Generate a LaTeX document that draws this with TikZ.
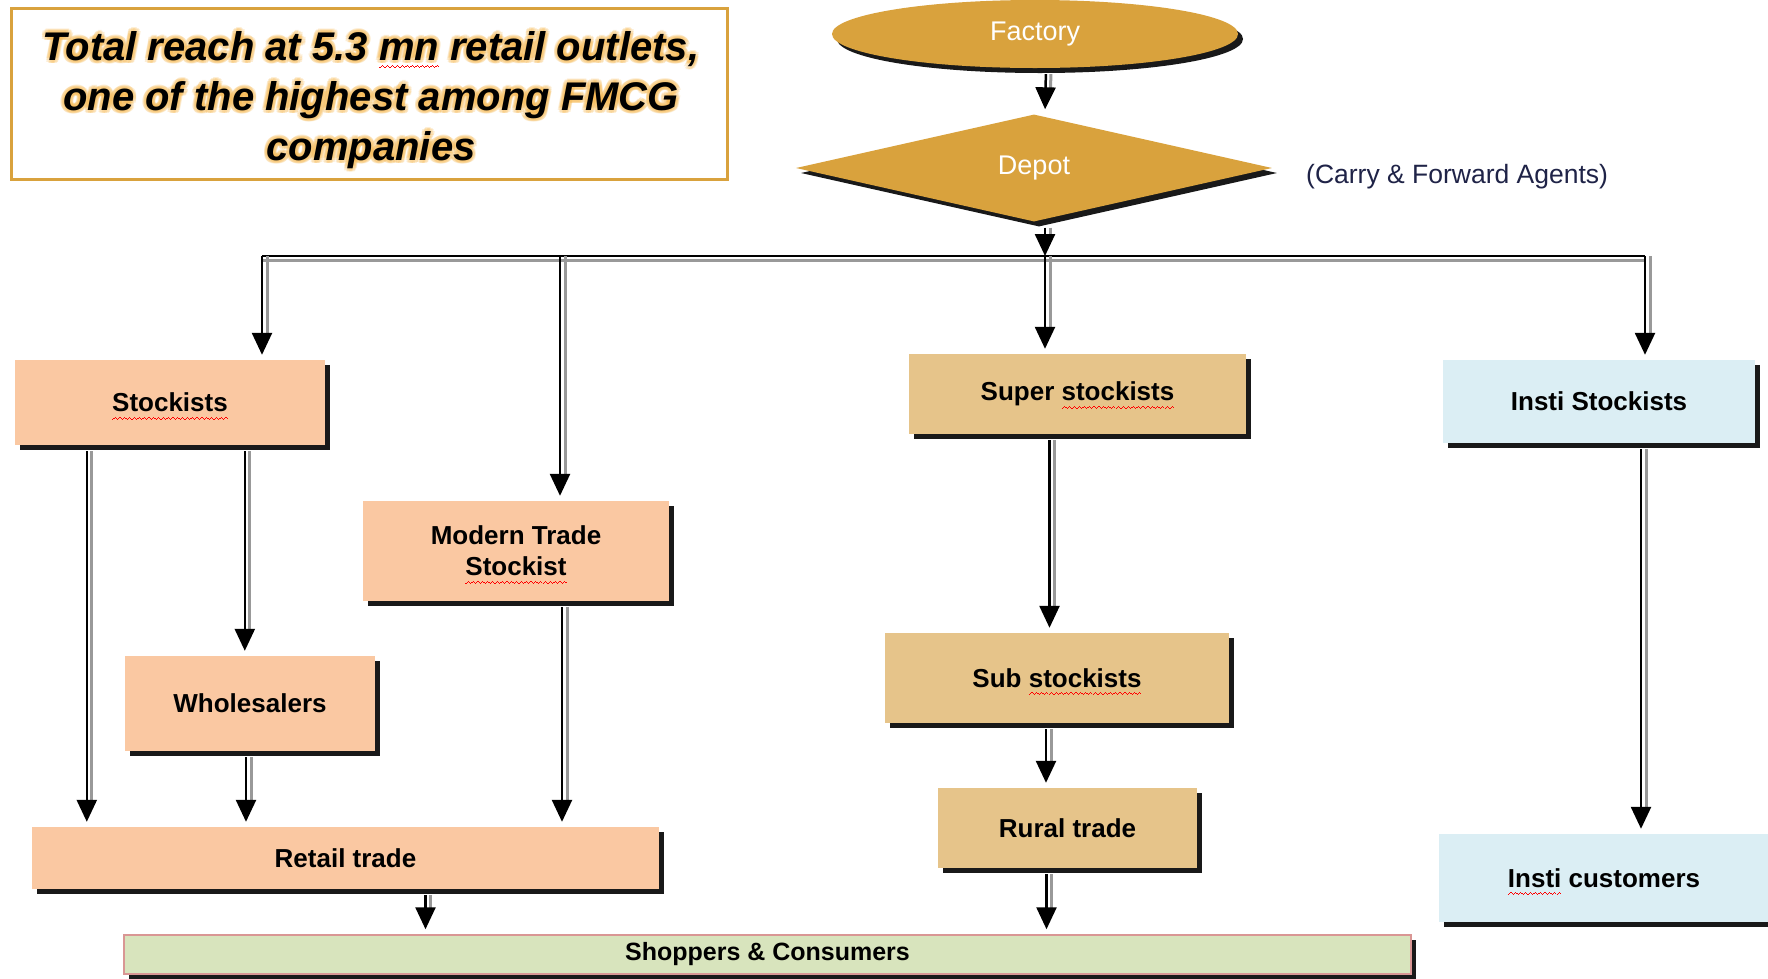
\documentclass[tikz,border=0pt]{standalone}
\usepackage{fontspec}
\setmainfont{Liberation Sans}
\usetikzlibrary{shapes.geometric,shadows,arrows.meta,calc}
\definecolor{gold}{HTML}{D9A23D}
\definecolor{salmon}{HTML}{FAC8A2}
\definecolor{boxtan}{HTML}{E6C48A}
\definecolor{lblue}{HTML}{DBEEF4}
\definecolor{lgreen}{HTML}{D8E4BD}
\definecolor{pinkline}{HTML}{D99694}
\definecolor{glowc}{HTML}{F7B547}
\definecolor{navy}{HTML}{1F2347}
\newcommand\wavebit{\rule[-8pt]{1.2pt}{1.1pt}\rule[-7pt]{1.2pt}{1.1pt}\rule[-6pt]{1.2pt}{1.1pt}\rule[-7pt]{1.2pt}{1.1pt}}
\newcommand\redwave[1]{\setbox0\hbox{#1}\leavevmode\rlap{\smash{\hbox to\wd0{\color{red}\xleaders\hbox{\wavebit}\hfil}}}\box0\relax}
\newcommand\titlebody[1]{Total reach at 5.3 #1{mn} retail outlets,\\one of the highest among FMCG\\companies}
\tikzset{
  shad/.style={drop shadow={shadow xshift=5pt,shadow yshift=-5pt,fill=black,opacity=0.9}},
  boxlbl/.style={font=\bfseries\fontsize{26}{31}\selectfont, align=center, inner sep=0pt},
  flowbox/.style={boxlbl, shad, fill=#1},
  titlefont/.style={font=\bfseries\itshape\fontsize{40}{50}\selectfont, align=center, inner sep=0pt},
  conn/.style={line width=2.5pt, -{Triangle[width=20pt,length=22pt]}, shorten <=6pt, shorten >=5pt,
    preaction={draw=black!40, line width=3pt, -, shorten >=22pt, transform canvas={xshift=5pt}}},
  busline/.style={line width=2.5pt, preaction={draw=black!40, line width=3pt, transform canvas={yshift=-4pt}}}
}
\begin{document}
\begin{tikzpicture}[x=1pt,y=-1pt]
\useasboundingbox (0,0) rectangle (1768,978);
\fill[white] (0,0) rectangle (1768,978);

% title box
\node[draw=gold, line width=3pt, fill=white, minimum width=716pt, minimum height=171pt] (title) at (369,93.5) {};
\foreach \a in {0,30,...,330}{
  \node[titlefont, text=glowc, text opacity=0.22] (glow\a) at ($(371,100)+(\a:3.5)$) {\titlebody{}};
}
\node[titlefont] (ttl) at (371,100) {\titlebody{\redwave}};

% factory and depot
\node[ellipse, fill=gold, shad, minimum width=406pt, minimum height=68pt, text=white,
      font=\fontsize{27}{30}\selectfont, inner sep=0pt] (fac) at (1035,34) {Factory};
\node[diamond, fill=gold, shad, minimum width=476pt, minimum height=107pt, text=white,
      font=\fontsize{27}{30}\selectfont, inner sep=0pt] (dep) at (1034,168) {Depot};
\node[font=\fontsize{26.5}{29}\selectfont, text=navy, anchor=west, inner sep=0pt] (cfa) at (1306,177) {(Carry \& Forward Agents)};

% boxes
\node[flowbox=salmon, minimum width=310pt, minimum height=85pt] (stock) at (170,402.5) {\redwave{Stockists}};
\node[flowbox=salmon, minimum width=306pt, minimum height=100pt] (mts) at (516,551) {Modern Trade\\\redwave{Stockist}};
\node[flowbox=salmon, minimum width=250pt, minimum height=95pt] (whole) at (250,703.5) {Wholesalers};
\node[flowbox=salmon, minimum width=627pt, minimum height=62pt] (retail) at (345.5,858) {Retail trade};
\node[flowbox=boxtan, minimum width=337pt, minimum height=80pt] (super) at (1077.5,394) {Super \redwave{stockists}};
\node[flowbox=boxtan, minimum width=344pt, minimum height=90pt] (sub) at (1057,678) {Sub \redwave{stockists}};
\node[flowbox=boxtan, minimum width=259pt, minimum height=80pt] (rural) at (1067.5,828) {Rural trade};
\node[flowbox=lblue, minimum width=312pt, minimum height=83pt] (insts) at (1599,401.5) {Insti Stockists};
\node[flowbox=lblue, minimum width=330pt, minimum height=88pt] (instc) at (1604,878) {\redwave{Insti} customers};
\node[flowbox=lgreen, draw=pinkline, line width=1.5pt, font=\bfseries\fontsize{25}{30}\selectfont,
      minimum width=1287pt, minimum height=39pt] (shop) at (767.5,954.5) {Shoppers \& Consumers};

% bus
\coordinate (busL) at (262,256);
\coordinate (busR) at (1645,256);
\coordinate (b2) at (560,256);
\coordinate (b3) at (1045,256);
\draw[busline] (busL) -- (busR);

% connectors
\draw[conn] ([xshift=11pt]fac.south) -- ([xshift=11pt]dep.north);
\draw[conn, shorten >=0pt] ([xshift=11pt]dep.south) -- (b3);
\draw[conn, shorten <=0pt] (busL) -- (busL |- stock.north);
\draw[conn, shorten <=0pt] (b2) -- (b2 |- mts.north);
\draw[conn, shorten <=0pt] (b3) -- (b3 |- super.north);
\draw[conn, shorten <=0pt] (busR) -- (busR |- insts.north);
\draw[conn] ([xshift=72pt]stock.south west) -- ([xshift=72pt]stock.south west |- retail.north);
\draw[conn] ([xshift=230pt]stock.south west) -- ([xshift=230pt]stock.south west |- whole.north);
\draw[conn] ([xshift=-4pt]whole.south) -- ([xshift=-4pt]whole.south |- retail.north);
\draw[conn] ([xshift=46pt]mts.south) -- ([xshift=46pt]mts.south |- retail.north);
\draw[conn] ([xshift=80pt]retail.south) -- ([xshift=80pt]retail.south |- shop.north);
\draw[conn] ([xshift=-28pt]super.south) -- ([xshift=-28pt]super.south |- sub.north);
\draw[conn] ([xshift=-11pt]sub.south) -- ([xshift=-11pt]sub.south |- rural.north);
\draw[conn] ([xshift=-21pt]rural.south) -- ([xshift=-21pt]rural.south |- shop.north);
\draw[conn] ([xshift=42pt]insts.south) -- ([xshift=42pt]insts.south |- instc.north);
\end{tikzpicture}
\end{document}
